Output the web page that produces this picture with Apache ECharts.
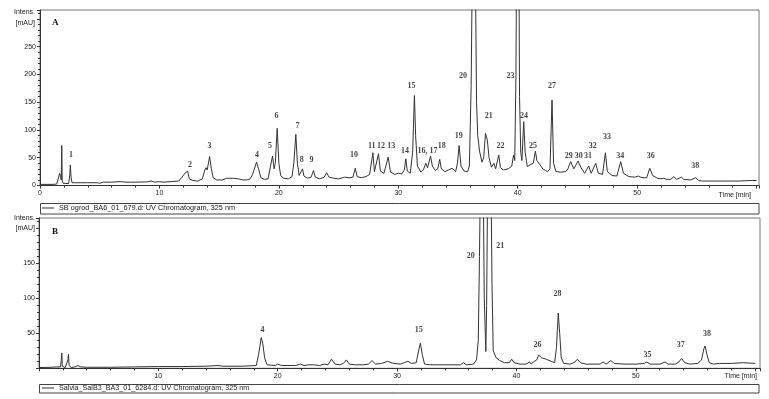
<!DOCTYPE html>
<html>
<head>
<meta charset="utf-8">
<script src="https://cdn.jsdelivr.net/npm/echarts@6/dist/echarts.min.js"></script>
<style>
  html, body { margin: 0; background: #fff; }
  #chart { width: 769px; height: 399px; }
</style>
</head>
<body>
<div id="chart"></div>
<script>
// ---- trace A : SB ogrod (time min, intensity mAU) ----
const traceA = [
  [0,2],[0.5,2],[1.0,2],[1.4,2.5],[1.55,5],[1.65,22],[1.72,25],[1.78,10],[1.82,72],[1.86,8],[1.95,4],[2.1,3],
  [2.4,3.5],[2.5,20],[2.54,37],[2.6,15],[2.68,5],[3.0,5],[4.0,5],[4.8,5],[5.0,4],[5.3,6],[6.0,6],[6.7,7],
  [7.2,6],[8.0,6],[9.0,6.5],[9.3,8],[9.6,6],[10.0,7],[10.3,6],[11.0,7],[11.6,8],[11.9,15],[12.05,20],[12.2,17],
  [12.36,26],[12.5,12],[12.8,9],[13.2,8],[13.6,12],[13.8,28],[13.9,32],[14.0,28],[14.2,52],[14.35,30],[14.5,14],
  [14.8,10],[15.3,10],[15.6,13],[16.2,13],[16.6,12],[17.0,10],[17.3,10],[17.6,12],[17.8,20],[18.13,42],[18.3,30],
  [18.5,14],[18.8,11],[19.1,12],[19.3,35],[19.47,53],[19.6,30],[19.7,40],[19.86,103],[20.0,40],[20.15,18],
  [20.4,13],[20.8,12],[21.1,16],[21.25,40],[21.42,92],[21.55,40],[21.7,18],[21.85,20],[21.98,30],[22.1,17],
  [22.4,13],[22.7,15],[22.9,27],[23.05,15],[23.4,12],[23.8,15],[24.0,23],[24.2,15],[24.6,13],[25.0,12],
  [25.5,15],[25.9,14],[26.2,15],[26.4,31],[26.55,16],[26.9,14],[27.3,16],[27.6,20],[27.87,59],[28.0,25],
  [28.15,22],[28.34,57],[28.5,26],[28.8,22],[29.15,51],[29.35,24],[29.7,20],[30.0,22],[30.3,21],[30.5,28],
  [30.63,48],[30.75,26],[31.0,22],[31.2,60],[31.35,162],[31.45,90],[31.6,35],[31.9,24],[32.1,28],[32.3,40],
  [32.45,32],[32.7,53],[32.85,35],[33.1,27],[33.3,30],[33.47,47],[33.6,30],[33.9,25],[34.2,28],[34.5,31],
  [34.8,25],[34.95,40],[35.09,72],[35.25,35],[35.5,26],[35.8,25],[35.95,35],[36.1,180],[36.2,400],[36.45,400],
  [36.55,150],[36.65,90],[36.8,62],[37.0,42],[37.15,50],[37.3,94],[37.45,82],[37.6,50],[37.8,33],[38.0,40],
  [38.15,30],[38.41,55],[38.55,32],[38.8,28],[39.2,30],[39.5,35],[39.65,55],[39.75,45],[39.85,200],[39.9,400],
  [40.1,400],[40.15,160],[40.25,60],[40.35,45],[40.5,115],[40.62,60],[40.8,34],[41.1,38],[41.3,40],[41.48,62],
  [41.6,45],[41.75,42],[42.1,30],[42.5,25],[42.7,30],[42.87,154],[43.0,40],[43.2,25],[43.6,24],[44.0,25],
  [44.2,30],[44.43,43],[44.7,30],[45.05,44],[45.3,32],[45.6,22],[45.94,35],[46.15,22],[46.53,40],[46.75,22],
  [47.1,20],[47.34,59],[47.5,25],[47.9,18],[48.3,17],[48.62,43],[48.85,22],[49.3,16],[49.8,15],[50.1,17],
  [50.4,14],[50.8,14],[51.05,31],[51.3,18],[51.7,13],[52.0,12],[52.2,13],[52.5,11],[52.8,11],[53.08,16],
  [53.3,11],[53.7,15],[53.9,11],[54.5,10],[54.9,14],[55.15,9],[55.5,8],[56.5,8],[57.5,8],[58.5,8],[59.5,9],[60,9]
];

// ---- trace B : Salvia SalB3 ----
const traceB = [
  [0,1],[1.0,1.5],[1.5,2],[1.8,2],[1.87,12],[1.91,22],[1.95,3],[2.2,1],[2.35,2],[2.42,12],[2.47,20],[2.52,4],
  [2.7,1],[3.0,2],[3.25,4],[3.5,2],[4.0,1.5],[6.0,1.5],[8.0,2],[10.0,2.5],[12.0,2.5],[14.0,3],[15.0,4],[15.4,3],
  [17.0,3],[18.2,4],[18.4,20],[18.62,44],[18.75,35],[18.9,15],[19.1,5],[19.8,4],[20.0,6],[20.3,4],[21.5,4],
  [21.9,6],[22.2,4],[22.6,5],[23.0,5],[23.5,4],[23.9,6],[24.2,5],[24.5,13],[24.8,6],[25.2,5],[25.5,7],[25.75,12],
  [26.0,6],[26.5,5],[27.2,5],[27.6,6],[27.9,11],[28.2,6],[28.7,7],[29.2,10],[29.7,7],[30.3,6],[30.6,8],[30.9,10],
  [31.2,7],[31.6,8],[31.8,25],[31.95,36],[32.1,20],[32.3,6],[32.8,5],[34.0,5],[35.3,5],[35.55,8],[35.8,5],
  [36.4,6],[36.65,12],[36.8,40],[36.9,160],[37.0,300],[37.2,300],[37.3,100],[37.43,24],[37.5,90],[37.6,300],
  [37.85,300],[37.95,120],[38.05,25],[38.3,15],[38.6,11],[39.0,8],[39.4,8],[39.6,13],[39.8,8],[40.3,6],[40.8,6],
  [41.1,9],[41.25,6],[41.4,9],[41.55,7],[41.7,12],[41.85,19],[42.1,15],[42.5,13],[42.9,10],[43.2,8],[43.35,30],
  [43.5,79],[43.62,50],[43.75,15],[43.95,7],[44.5,6],[44.9,9],[45.1,13],[45.35,8],[45.8,6],[46.5,6],[47.0,6],
  [47.25,9],[47.5,6],[47.9,11],[48.2,7],[49.0,6],[50.0,6],[50.7,7],[50.92,9],[51.2,6],[52.0,6],[52.45,9],
  [52.7,6],[53.3,6],[53.6,9],[53.83,14],[54.1,8],[54.5,6],[55.2,7],[55.5,12],[55.7,28],[55.8,32],[55.95,20],
  [56.15,8],[56.5,6],[57.0,7],[58.0,7],[59.0,8],[60,7]
];

// peak numbers: [time, label height (mAU), text]
const peaksA = [
  [2.6,55,'1'],[12.55,37,'2'],[14.2,72,'3'],[18.16,55,'4'],[19.25,72,'5'],[19.81,125,'6'],[21.56,107,'7'],
  [21.92,46,'8'],[22.74,46,'9'],[26.3,55,'10'],[27.78,72,'11'],[28.56,72,'12'],[29.4,72,'13'],[30.57,62,'14'],
  [31.1,179,'15'],[32.44,62,'16, 17'],[33.64,72,'18'],[35.06,90,'19'],[35.42,197,'20'],[37.57,125,'21'],
  [38.55,72,'22'],[39.39,197,'23'],[40.53,125,'24'],[41.28,72,'25'],[42.87,179,'27'],[44.27,54,'29'],
  [45.1,54,'30'],[45.88,54,'31'],[46.28,72,'32'],[47.47,88,'33'],[48.59,54,'34'],[51.13,54,'36'],[54.87,36,'38']
];
const peaksB = [
  [18.72,55,'4'],[31.81,55,'15'],[36.16,161,'20'],[38.63,175,'21'],[41.76,34,'26'],[43.44,106,'28'],
  [50.98,19,'35'],[53.77,34,'37'],[55.95,49,'38']
];

const nameA = 'SB ogrod_BA6_01_679.d: UV Chromatogram, 325 nm';
const nameB = 'Salvia_SalB3_BA3_01_6284.d: UV Chromatogram, 325 nm';

const SANS = 'Liberation Sans';
const SERIF = 'Liberation Serif';
const INK = '#333';

function xAxisOf(gi, max, showZero) {
  return {
    type: 'value', gridIndex: gi, min: 0, max: max, interval: 10,
    axisLine: { lineStyle: { color: INK } },
    axisTick: { length: 3, lineStyle: { color: INK } },
    minorTick: { show: true, splitNumber: 5, length: 2, lineStyle: { color: INK } },
    splitLine: { show: false },
    axisLabel: {
      margin: 4, fontSize: 7, fontFamily: SANS, color: '#222',
      formatter: v => (v % 10 === 0 && v <= 50 && (showZero || v > 0)) ? String(v) : ''
    }
  };
}
function yAxisOf(gi, max, lo, hi) {
  return {
    type: 'value', gridIndex: gi, min: 0, max: max, interval: 50,
    axisLine: { lineStyle: { color: INK } },
    axisTick: { length: 3, lineStyle: { color: INK } },
    minorTick: { show: true, splitNumber: 5, length: 2, lineStyle: { color: INK } },
    splitLine: { show: false },
    axisLabel: {
      margin: 4, fontSize: 7, fontFamily: SANS, color: '#222',
      formatter: v => (v % 50 === 0 && v >= lo && v <= hi) ? String(v) : ''
    }
  };
}
function labelSeries(gi, peaks) {
  return {
    type: 'scatter', xAxisIndex: gi, yAxisIndex: gi, silent: true,
    symbolSize: 1, itemStyle: { color: 'transparent' },
    data: peaks.map(p => ({ value: [p[0], p[1]], name: p[2] })),
    label: {
      show: true, position: 'inside', formatter: '{b}',
      fontFamily: SERIF, fontWeight: 'bold', fontSize: 8, color: '#111'
    }
  };
}
function traceSeries(gi, name, data) {
  return {
    name: name, type: 'line', xAxisIndex: gi, yAxisIndex: gi,
    symbol: 'none', clip: true, silent: true,
    lineStyle: { color: INK, width: 1 },
    itemStyle: { color: INK },
    data: data
  };
}
function legendOf(name, top, size) {
  return {
    data: [name], left: 42, top: top, padding: 0, icon: 'rect',
    itemWidth: 12, itemHeight: 1, itemGap: 4,
    itemStyle: { color: INK },
    textStyle: { fontFamily: SANS, fontSize: size, color: '#222' }
  };
}

const textStyle = { fontFamily: SANS, fontSize: 7, fill: '#222' };

const chart = echarts.init(document.getElementById('chart'));
chart.setOption({
  animation: false,
  grid: [
    { left: 40, right: 10, top: 10, bottom: 213.5, show: true, borderColor: '#777', borderWidth: 1 },
    { left: 39, right: 9, top: 218, bottom: 30.7, show: true, borderColor: '#777', borderWidth: 1 }
  ],
  xAxis: [xAxisOf(0, 60.2, true), xAxisOf(1, 60.4, false)],
  yAxis: [yAxisOf(0, 316, 0, 250), yAxisOf(1, 215, 50, 150)],
  legend: [legendOf(nameA, 204.5, 7.3), legendOf(nameB, 384.5, 7.2)],
  graphic: [
    { type: 'rect', z: -1, shape: { x: 40.5, y: 203.5, width: 718.5, height: 10.5 },
      style: { fill: '#fff', stroke: '#444', lineWidth: 1 } },
    { type: 'rect', z: -1, shape: { x: 39.5, y: 384.5, width: 719.5, height: 8.5 },
      style: { fill: '#fff', stroke: '#444', lineWidth: 1 } },
    { type: 'text', right: 734, top: 9, style: Object.assign({ text: 'Intens.' }, textStyle) },
    { type: 'text', right: 734, top: 20, style: Object.assign({ text: '[mAU]' }, textStyle) },
    { type: 'text', right: 734, top: 215, style: Object.assign({ text: 'Intens.' }, textStyle) },
    { type: 'text', right: 734, top: 225, style: Object.assign({ text: '[mAU]' }, textStyle) },
    { type: 'text', left: 52, top: 18, style: { text: 'A', fontFamily: SERIF, fontWeight: 'bold', fontSize: 9, fill: '#111' } },
    { type: 'text', left: 52, top: 227, style: { text: 'B', fontFamily: SERIF, fontWeight: 'bold', fontSize: 9, fill: '#111' } },
    { type: 'text', right: 18, top: 191.5, style: Object.assign({ text: 'Time [min]' }, textStyle) },
    { type: 'text', right: 12, top: 372.5, style: Object.assign({ text: 'Time [min]' }, textStyle) }
  ],
  series: [
    traceSeries(0, nameA, traceA),
    traceSeries(1, nameB, traceB),
    labelSeries(0, peaksA),
    labelSeries(1, peaksB)
  ]
});
</script>
</body>
</html>
